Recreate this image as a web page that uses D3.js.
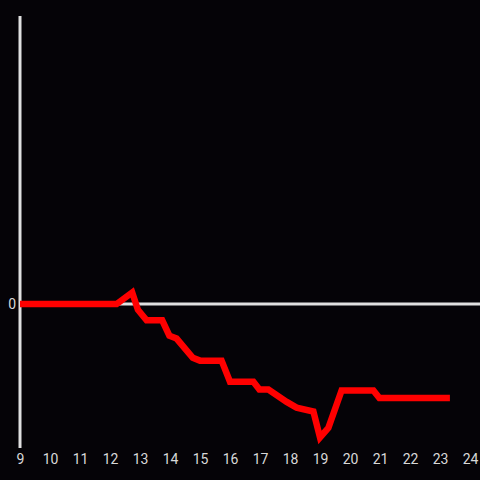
<!DOCTYPE html>
<html>
<head>
<meta charset="utf-8">
<script src="https://cdn.jsdelivr.net/npm/d3@7"></script>
<style>
  html, body { margin: 0; padding: 0; background: #050307; }
  svg { display: block; }
</style>
</head>
<body>
<div id="chart"></div>
<script>
const width = 480, height = 480;

// hour of day and value
const hours = [9, 12.22, 12.74, 12.93, 13.22, 13.74, 13.98, 14.22, 14.76, 15.0, 15.72, 16.0,
  16.78, 16.98, 17.28, 17.89, 18.22, 18.78, 19.0, 19.28, 19.72, 20.78, 20.98, 23.33];
const values = [0, 0, 0.12, -0.06, -0.17, -0.17, -0.33, -0.36, -0.56, -0.59, -0.59, -0.81,
  -0.81, -0.89, -0.89, -1.02, -1.08, -1.12, -1.39, -1.29, -0.9, -0.9, -0.98, -0.98];
const xTicks = d3.range(9, 25);
const yTicks = [0];

const data = hours.map((h, i) => ({ h: h, v: values[i] }));

const svg = d3.select("#chart").append("svg")
  .attr("width", width)
  .attr("height", height);

svg.append("rect")
  .attr("width", width)
  .attr("height", height)
  .attr("fill", "#050307");

const x = d3.scaleLinear().domain([9, 24]).range([20, 470]);
const y = d3.scaleLinear().domain([-1.5, 3]).range([448, 16]);

// x axis labels only
const xAxis = svg.append("g")
  .attr("transform", "translate(0,448)")
  .call(d3.axisBottom(x).tickValues(xTicks).tickSize(0).tickPadding(6).tickFormat(d3.format("d")));
xAxis.select(".domain").remove();
xAxis.selectAll("text")
  .attr("fill", "#d8d8d8")
  .style("font-family", "Roboto, 'Liberation Sans', sans-serif")
  .style("font-size", "14px");

// y axis
const yAxis = svg.append("g")
  .attr("transform", "translate(20,0)")
  .call(d3.axisLeft(y).tickValues(yTicks).tickSize(0).tickPadding(4).tickFormat(d3.format("d")));
yAxis.select(".domain").remove();
yAxis.selectAll("text")
  .attr("fill", "#d8d8d8")
  .style("font-family", "Roboto, 'Liberation Sans', sans-serif")
  .style("font-size", "14px");

svg.append("line")
  .attr("x1", 20).attr("x2", 20)
  .attr("y1", y(3)).attr("y2", y(-1.5))
  .attr("stroke", "#e0e0e0")
  .attr("stroke-width", 3);

svg.append("line")
  .attr("x1", 20).attr("x2", width)
  .attr("y1", y(0)).attr("y2", y(0))
  .attr("stroke", "#e0e0e0")
  .attr("stroke-width", 3);

const line = d3.line()
  .x(d => x(d.h))
  .y(d => y(d.v));

svg.append("path")
  .datum(data)
  .attr("d", line)
  .attr("fill", "none")
  .attr("stroke", "#ff0000")
  .attr("stroke-width", 6.5)
  .attr("stroke-linejoin", "miter");
</script>
</body>
</html>
